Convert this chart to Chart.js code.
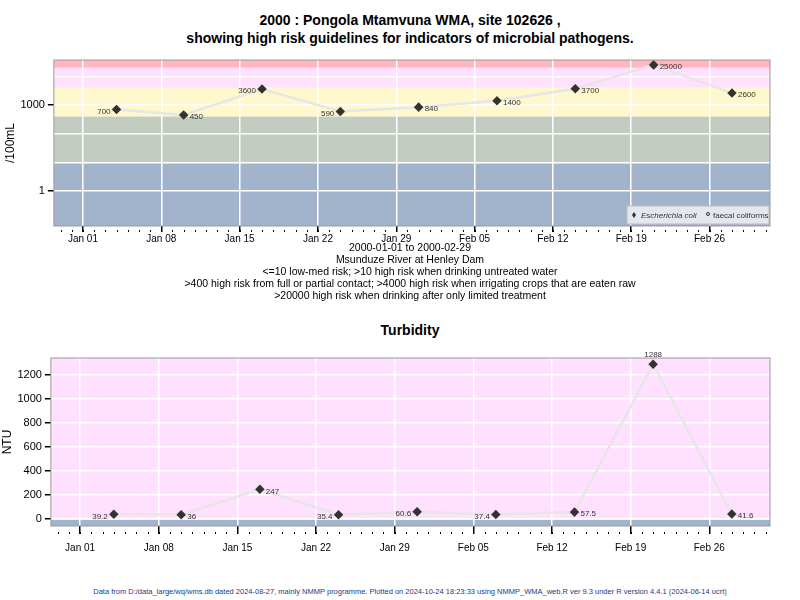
<!DOCTYPE html>
<html>
<head>
<meta charset="utf-8">
<script src="https://cdn.jsdelivr.net/npm/chart.js@4"></script>
<style>
  body { margin: 0; width: 800px; height: 600px; background: #fff; font-family: "Liberation Sans", Arial, sans-serif; position: relative; overflow: hidden; }
  .t { position: absolute; left: 0; width: 800px; text-align: center; color: #000; }
  canvas { position: absolute; left: 0; }
</style>
</head>
<body>
<div class="t" style="top:11px;font-weight:bold;font-size:14px;line-height:18px;left:10px;">2000 : Pongola Mtamvuna WMA, site 102626 ,<br>showing high risk guidelines for indicators of microbial pathogens.</div>
<canvas id="ecoli" style="top:50px" width="800" height="196"></canvas>
<div class="t" style="top:241px;font-size:10.5px;line-height:12px;left:10px;">2000-01-01 to 2000-02-29<br>Msunduze River at Henley Dam<br>&lt;=10 low-med risk; &gt;10 high risk when drinking untreated water<br>&gt;400 high risk from full or partial contact; &gt;4000 high risk when irrigating crops that are eaten raw<br>&gt;20000 high risk when drinking after only limited treatment</div>
<div class="t" style="top:322px;font-weight:bold;font-size:14px;left:10px;">Turbidity</div>
<canvas id="turb" style="top:345px" width="800" height="217"></canvas>
<div class="t" style="top:587px;font-size:7.5px;color:#1a3a8a;left:10px;">Data from D:/data_large/wq/wms.db dated 2024-08-27, mainly NMMP programme. Plotted on 2024-10-24 18:23:33 using NMMP_WMA_web.R ver 9.3 under R version 4.4.1 (2024-06-14 ucrt)</div>
<script>
// sample days, counted from 2000-01-01
const sampleDays = [3, 9, 16, 23, 30, 37, 44, 51, 58];
const ecoliValues = [700, 450, 3600, 590, 840, 1400, 3700, 25000, 2600];
const ecoliLabelSide = ['left', 'right', 'left', 'left', 'right', 'right', 'right', 'right', 'right'];
const turbValues = [39.2, 36, 247, 35.4, 60.6, 37.4, 57.5, 1288, 41.6];
const turbLabelSide = ['left', 'right', 'right', 'left', 'left', 'left', 'right', 'top', 'right'];
const dateTicks = [0, 7, 14, 21, 28, 35, 42, 49, 56];
const monthNames = ['Jan', 'Feb', 'Mar'];

// guideline bands [from, to, colour]
const ecoliBands = [[0.01, 10, '#a2b4cc'], [10, 400, '#c3ccc0'], [400, 4000, '#fff8cc'], [4000, 20000, '#ffe0ff'], [20000, 1e6, '#ffb6c1']];
const turbBands = [[-100, -5, '#a2b4cc'], [-5, 5000, '#ffe0ff']];

function dayLabel(d) {
  const dt = new Date(Date.UTC(2000, 0, 1 + d));
  return monthNames[dt.getUTCMonth()] + ' ' + String(dt.getUTCDate()).padStart(2, '0');
}

const bandPlugin = {
  id: 'bands',
  beforeDraw(chart, args, opts) {
    const { ctx, chartArea: a, scales: { y } } = chart;
    ctx.save();
    ctx.beginPath(); ctx.rect(a.left, a.top, a.width, a.height); ctx.clip();
    opts.bands.forEach(([lo, hi, col]) => {
      const p1 = y.getPixelForValue(hi), p2 = y.getPixelForValue(lo);
      ctx.fillStyle = col;
      ctx.fillRect(a.left, p1, a.width, p2 - p1);
    });
    ctx.restore();
  },
  afterDraw(chart, args, opts) {
    const { ctx, chartArea: a, scales: { x } } = chart;
    ctx.save();
    ctx.strokeStyle = '#999'; ctx.lineWidth = 1;
    ctx.strokeRect(a.left, a.top, a.width, a.height);
    ctx.strokeStyle = '#000';
    for (let d = Math.ceil(x.min); d <= x.max; d++) {
      const px = Math.round(x.getPixelForValue(d)) + 0.5;
      ctx.beginPath(); ctx.moveTo(px, a.bottom + opts.minor); ctx.lineTo(px, a.bottom + opts.minor + 2); ctx.stroke();
    }
    // value labels
    const meta = chart.getDatasetMeta(0);
    ctx.font = '8px "Liberation Sans", Arial';
    ctx.fillStyle = '#333';
    ctx.textBaseline = 'middle';
    meta.data.forEach((pt, i) => {
      const side = opts.sides[i];
      const txt = String(chart.data.datasets[0].data[i].y);
      if (side === 'left') { ctx.textAlign = 'right'; ctx.fillText(txt, pt.x - 6, pt.y + 2); }
      else if (side === 'right') { ctx.textAlign = 'left'; ctx.fillText(txt, pt.x + 6, pt.y + 2); }
      else { ctx.textAlign = 'center'; ctx.fillText(txt, pt.x, pt.y - 9); }
    });
    if (opts.legend) {
      const w = 142, h = 18, lx = a.right - w - 1, ly = a.bottom - h - 2;
      ctx.fillStyle = '#e4e8ee'; ctx.fillRect(lx, ly, w, h);
      ctx.strokeStyle = '#bbb'; ctx.strokeRect(lx, ly, w, h);
      ctx.fillStyle = '#333'; ctx.textAlign = 'left';
      ctx.beginPath(); ctx.moveTo(lx + 7, ly + 6); ctx.lineTo(lx + 9, ly + 9); ctx.lineTo(lx + 7, ly + 12); ctx.lineTo(lx + 5, ly + 9); ctx.fill();
      ctx.font = 'italic 8px "Liberation Sans", Arial';
      ctx.fillText('Escherichia coli', lx + 14, ly + 10);
      ctx.beginPath(); ctx.arc(lx + 81, ly + 8, 1.5, 0, 7); ctx.strokeStyle = '#333'; ctx.stroke();
      ctx.font = '8px "Liberation Sans", Arial';
      ctx.fillText('faecal coliforms', lx + 86, ly + 10);
    }
    ctx.restore();
  }
};

function makeChart(id, values, sides, bands, yScale, legend, pad, xPad, tickLen) {
  return new Chart(document.getElementById(id), {
    type: 'line',
    data: {
      datasets: [{
        data: sampleDays.map((d, i) => ({ x: d, y: values[i] })),
        borderColor: '#e6e6e6', borderWidth: 2.5, tension: 0,
        pointStyle: 'rectRot', pointRadius: 3, pointBackgroundColor: '#333', pointBorderColor: '#333'
      }]
    },
    options: {
      responsive: false, animation: false,
      layout: { padding: pad },
      plugins: { legend: { display: false }, tooltip: { enabled: false }, bands: { bands, sides, legend, minor: tickLen - 2 } },
      scales: {
        x: {
          type: 'linear', min: -2.6, max: 61.4,
          afterBuildTicks: s => { s.ticks = dateTicks.map(v => ({ value: v })); },
          ticks: { callback: v => dayLabel(v), color: '#000', font: { size: 10 }, maxRotation: 0, padding: xPad },
          grid: { color: '#fff', lineWidth: 1.5, tickColor: '#000', tickLength: tickLen, drawOnChartArea: true },
          border: { display: false }
        },
        y: Object.assign({
          grid: { color: '#fff', lineWidth: 1.5, tickColor: '#000', tickLength: 6 },
          border: { display: false }
        }, yScale)
      }
    },
    plugins: [bandPlugin]
  });
}

makeChart('ecoli', ecoliValues, ecoliLabelSide, ecoliBands, {
  type: 'logarithmic', min: 0.06, max: 37000,
  title: { display: true, text: '/100mL', color: '#000', font: { size: 12 }, padding: 0 },
  afterBuildTicks: s => { s.ticks = [1, 10, 100, 1000, 10000].map(v => ({ value: v })); },
  ticks: { color: '#000', font: { size: 11 }, callback: v => (v === 1 || v === 1000) ? String(v) : '' },
  grid: { color: '#fff', lineWidth: 1.5, tickLength: 6,
    tickColor: c => (c.tick && (c.tick.value === 1 || c.tick.value === 1000)) ? '#000' : 'rgba(0,0,0,0)' }
}, true, { left: 3, right: 30, top: 10, bottom: 0 }, 1, 6);

makeChart('turb', turbValues, turbLabelSide, turbBands, {
  min: -58, max: 1340,
  title: { display: true, text: 'NTU', color: '#000', font: { size: 12 }, padding: 0 },
  afterBuildTicks: s => { s.ticks = [0, 200, 400, 600, 800, 1000, 1200].map(v => ({ value: v })); },
  ticks: { color: '#000', font: { size: 11 }, callback: v => String(v) }
}, false, { left: 0, right: 30, top: 13, bottom: 0 }, 8, 8);
</script>
</body>
</html>
